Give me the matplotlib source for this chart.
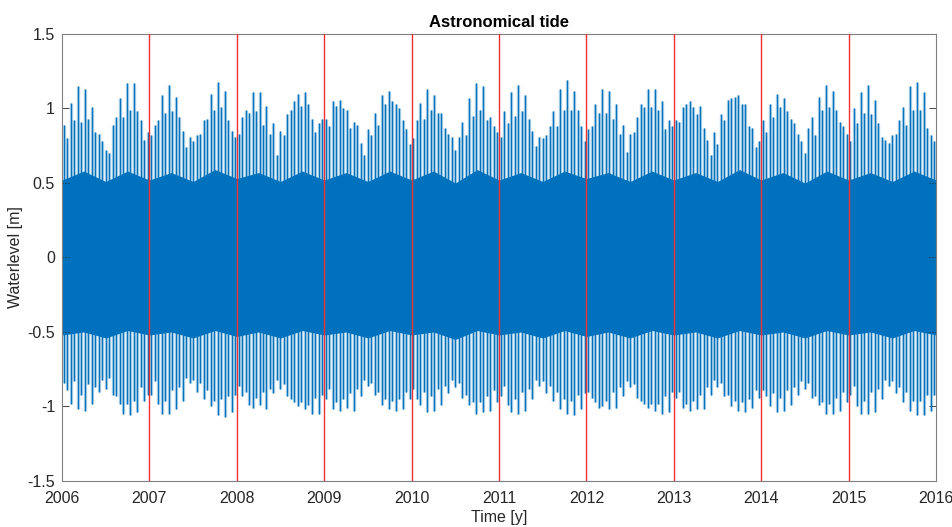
import numpy as np
import matplotlib.pyplot as plt

# Spring-tide extremes, 25 per year
hi_2006 = [0.89, 0.80, 1.04, 0.92, 1.15, 0.91, 1.13, 0.93, 1.01, 0.84, 0.83, 0.78, 0.72,
           0.70, 0.89, 0.94, 1.07, 0.94, 1.17, 0.99, 1.17, 0.98, 0.92, 0.79, 0.84]
hi_2007 = [0.82, 0.89, 0.92, 1.09, 0.97, 1.16, 0.98, 1.08, 0.94, 0.85, 0.74, 0.81, 0.78,
           0.82, 0.83, 0.92, 0.93, 1.10, 0.99, 1.18, 1.01, 1.12, 0.92, 0.85, 0.81]
hi_2008 = [0.83, 0.94, 0.99, 0.97, 1.11, 0.98, 1.11, 0.89, 1.02, 0.83, 0.90, 0.69, 0.85,
           0.82, 0.96, 0.99, 1.05, 1.10, 1.02, 1.11, 1.03, 0.93, 0.84, 0.90, 0.93]
hi_2009 = [0.93, 0.88, 1.05, 1.02, 1.06, 1.00, 0.99, 0.87, 0.91, 0.89, 0.77, 0.69, 0.86,
           0.82, 0.97, 0.89, 1.09, 1.03, 1.12, 1.05, 1.03, 1.00, 0.92, 0.86, 0.76]
hi_2010 = [0.80, 0.92, 1.04, 0.93, 1.13, 0.99, 1.09, 0.97, 0.97, 0.87, 0.83, 0.81, 0.72,
           0.81, 0.91, 0.82, 1.07, 0.95, 1.17, 0.99, 1.15, 0.92, 0.94, 0.88, 0.84]
hi_2011 = [0.81, 0.98, 0.90, 1.11, 0.95, 1.16, 0.98, 1.09, 0.93, 0.85, 0.75, 0.81, 0.80,
           0.82, 0.88, 0.98, 0.88, 1.13, 0.99, 1.19, 0.99, 1.12, 0.99, 0.88, 0.78]
hi_2012 = [0.86, 0.88, 1.03, 0.97, 1.13, 0.97, 1.12, 0.93, 1.03, 0.83, 0.89, 0.71, 0.83,
           0.84, 0.94, 1.03, 1.01, 1.13, 1.01, 1.13, 0.99, 1.05, 0.86, 0.92, 0.88]
hi_2013 = [0.92, 0.91, 1.01, 1.03, 1.05, 1.01, 0.96, 1.02, 0.87, 0.79, 0.69, 0.84, 0.76,
           0.96, 0.92, 1.06, 1.07, 1.08, 1.09, 1.03, 1.03, 0.88, 0.87, 0.74, 0.78]
hi_2014 = [0.92, 0.84, 1.03, 0.94, 1.10, 1.01, 1.07, 0.98, 0.93, 0.90, 0.83, 0.78, 0.70,
           0.87, 0.94, 0.82, 1.08, 0.99, 1.16, 1.01, 1.12, 0.99, 0.91, 0.88, 0.83]
hi_2015 = [0.78, 1.00, 0.90, 1.11, 0.97, 1.16, 0.96, 1.06, 0.90, 0.81, 0.79, 0.77, 0.82,
           0.83, 0.92, 1.01, 0.89, 1.15, 0.99, 1.18, 0.99, 1.11, 0.87, 0.82, 0.78]

lo_2006 = [-0.84, -0.89, -0.98, -0.83, -1.02, -0.92, -1.03, -0.85, -0.98, -0.87, -0.90, -0.82, -0.88,
           -0.81, -0.92, -0.93, -0.98, -1.05, -0.98, -1.06, -0.96, -1.04, -0.87, -0.96, -0.92]
lo_2007 = [-0.92, -0.83, -0.98, -1.05, -0.96, -1.05, -0.89, -1.02, -0.87, -0.96, -0.81, -0.84, -0.82,
           -0.90, -0.84, -0.95, -0.89, -1.00, -0.96, -1.06, -0.95, -1.07, -0.93, -1.04, -0.92]
lo_2008 = [-0.86, -0.93, -0.90, -0.99, -1.01, -0.94, -0.99, -0.90, -1.02, -0.88, -0.91, -0.82, -0.88,
           -0.85, -0.93, -0.95, -0.97, -1.00, -0.97, -1.02, -0.99, -1.05, -0.94, -1.05, -0.92]
lo_2009 = [-0.95, -0.88, -1.02, -0.97, -1.03, -0.95, -1.01, -0.91, -1.03, -0.88, -0.93, -0.82, -0.86,
           -0.84, -0.92, -0.90, -0.99, -0.95, -1.02, -0.96, -1.03, -0.95, -1.02, -0.90, -0.95]
lo_2010 = [-0.88, -0.95, -0.99, -0.90, -1.04, -0.93, -1.03, -0.88, -0.99, -0.86, -0.91, -0.82, -0.87,
           -0.84, -0.94, -0.92, -0.99, -0.97, -1.05, -0.97, -1.04, -0.93, -1.03, -0.89, -0.97]
lo_2011 = [-0.93, -0.86, -0.99, -1.04, -0.95, -1.05, -0.90, -1.03, -0.88, -0.95, -0.82, -0.86, -0.83,
           -0.91, -0.86, -0.96, -0.90, -1.02, -0.95, -1.05, -0.96, -1.06, -0.92, -1.02, -0.91]
lo_2012 = [-0.90, -0.94, -0.97, -1.01, -1.00, -0.96, -1.02, -0.90, -1.01, -0.87, -0.93, -0.83, -0.87,
           -0.85, -0.94, -0.96, -0.98, -1.01, -0.98, -1.03, -0.98, -1.05, -0.93, -1.04, -0.90]
lo_2013 = [-0.94, -0.90, -1.01, -0.98, -1.03, -0.96, -1.02, -0.92, -1.02, -0.87, -0.92, -0.82, -0.87,
           -0.84, -0.93, -0.92, -1.00, -0.96, -1.03, -0.97, -1.04, -0.95, -1.01, -0.89, -0.94]
lo_2014 = [-0.89, -0.93, -1.00, -0.91, -1.04, -0.94, -1.03, -0.89, -0.99, -0.87, -0.92, -0.83, -0.88,
           -0.84, -0.94, -0.93, -0.99, -0.97, -1.05, -0.98, -1.05, -0.94, -1.03, -0.90, -0.97]
lo_2015 = [-0.92, -0.86, -1.00, -1.05, -0.96, -1.05, -0.90, -1.04, -0.88, -0.95, -0.82, -0.86, -0.83,
           -0.91, -0.87, -0.97, -0.90, -1.03, -0.96, -1.06, -0.96, -1.06, -0.92, -1.03, -0.92]

# Dense body of the signal between neap extremes, quarterly (Jan, Apr, Jul, Oct)
body_hi = [0.52, 0.58, 0.51, 0.58, 0.52, 0.57, 0.51, 0.59, 0.53, 0.57, 0.51, 0.58,
           0.52, 0.57, 0.51, 0.58, 0.52, 0.58, 0.50, 0.59, 0.52, 0.57, 0.51, 0.58,
           0.53, 0.57, 0.51, 0.58, 0.52, 0.57, 0.51, 0.59, 0.52, 0.57, 0.50, 0.58,
           0.52, 0.57, 0.51, 0.58, 0.52]
body_lo = [-0.52, -0.50, -0.54, -0.49, -0.52, -0.50, -0.54, -0.49, -0.53, -0.50, -0.54, -0.49,
           -0.52, -0.50, -0.54, -0.49, -0.52, -0.50, -0.55, -0.49, -0.52, -0.50, -0.54, -0.49,
           -0.53, -0.50, -0.54, -0.49, -0.52, -0.50, -0.54, -0.49, -0.52, -0.50, -0.54, -0.49,
           -0.52, -0.50, -0.54, -0.49, -0.52]

years = [2007, 2008, 2009, 2010, 2011, 2012, 2013, 2014, 2015]

spring_hi = hi_2006 + hi_2007 + hi_2008 + hi_2009 + hi_2010 + hi_2011 + hi_2012 + hi_2013 + hi_2014 + hi_2015
spring_lo = lo_2006 + lo_2007 + lo_2008 + lo_2009 + lo_2010 + lo_2011 + lo_2012 + lo_2013 + lo_2014 + lo_2015
spring_t = np.arange(len(spring_hi)) * 0.04 + 2006.02   # ~14.8 day spring-neap cycle
body_t = np.arange(len(body_hi)) * 0.25 + 2006.0

blue = '#0072BD'
plt.rcParams['font.family'] = ['Liberation Sans', 'DejaVu Sans']

fig = plt.figure(figsize=(9.52, 5.27), dpi=100)
ax = fig.add_axes([0.0651, 0.0873, 0.9181, 0.8482])

ax.fill_between(body_t, body_lo, body_hi, color=blue, lw=0)
# soft halo + sharp line for every spring tide
ax.vlines(spring_t, spring_lo, spring_hi, color=blue, lw=2.4, alpha=0.35)
ax.vlines(spring_t, spring_lo, spring_hi, color=blue, lw=0.8)
for y in years:
    ax.axvline(y, color='#f03030', lw=1.0, zorder=5)

ax.set_xlim(2006, 2016)
ax.set_ylim(-1.5, 1.5)
ax.set_xticks(range(2006, 2017))
ax.set_yticks([-1.5, -1, -0.5, 0, 0.5, 1, 1.5])
ax.set_yticklabels(['-1.5', '-1', '-0.5', '0', '0.5', '1', '1.5'])
ax.tick_params(direction='in', top=True, right=True, labelsize=11.5, colors='#262626',
               length=5, width=0.6)
ax.tick_params(axis='x', pad=7)
ax.tick_params(axis='y', pad=5)
for s in ax.spines.values():
    s.set_color('#808080')
    s.set_linewidth(0.8)

ax.set_title('Astronomical tide', fontsize=12, fontweight='bold', color='black', pad=5)
ax.set_xlabel('Time [y]', fontsize=11.5, color='#262626', labelpad=3)
ax.set_ylabel('Waterlevel [m]', fontsize=11.5, color='#262626', labelpad=3)

fig.savefig('out.png', dpi=100)
